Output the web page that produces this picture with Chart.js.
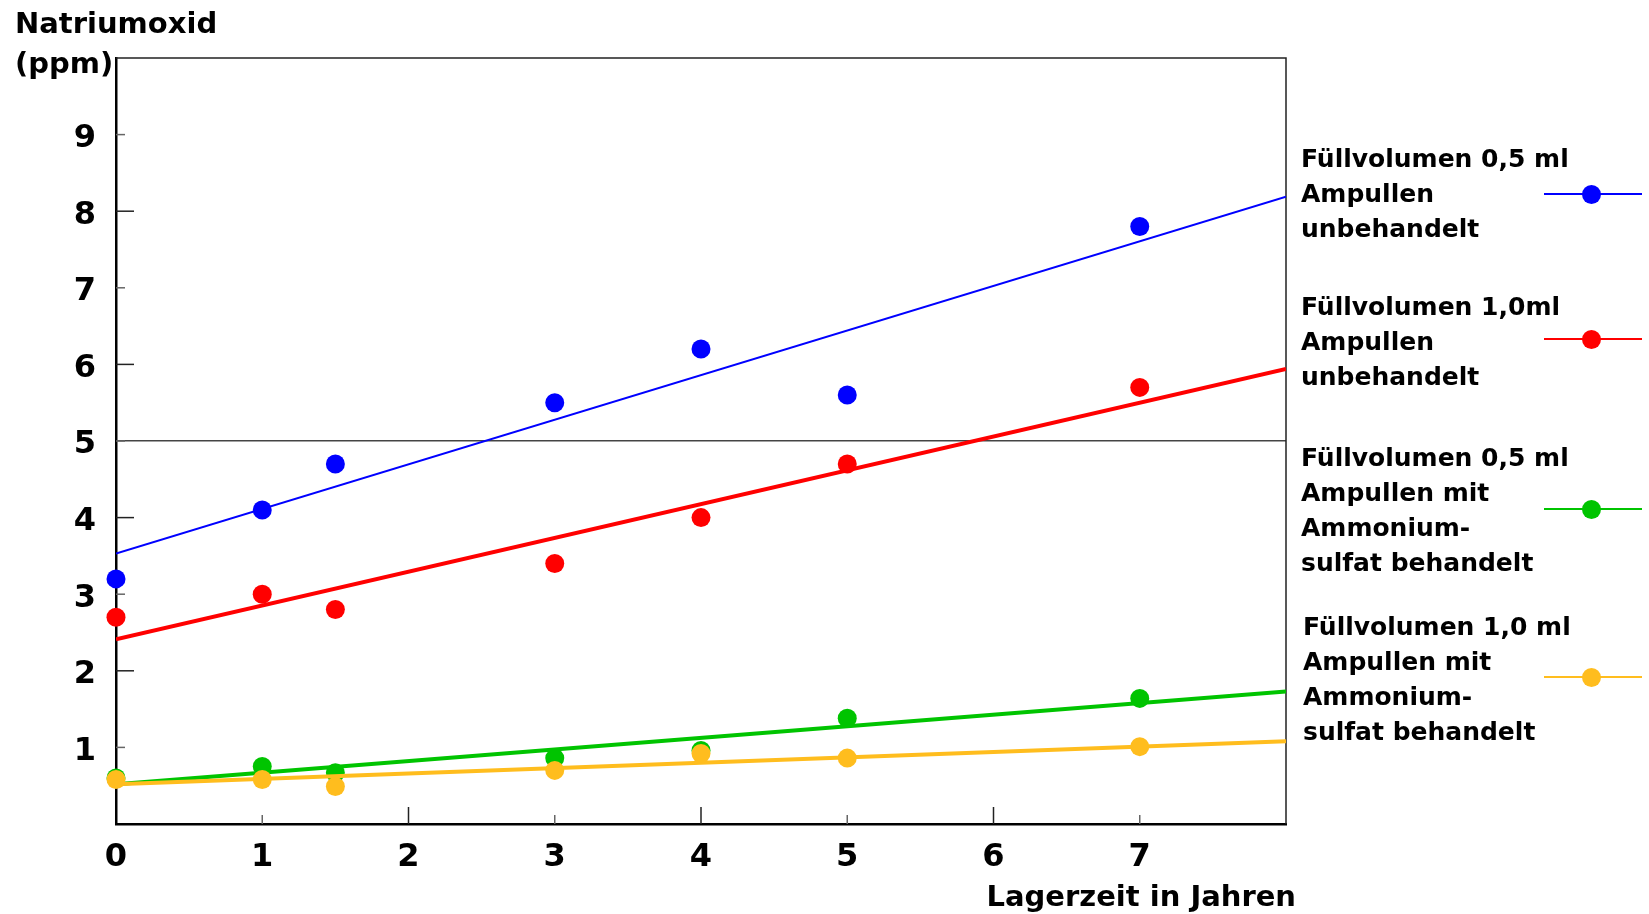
<!DOCTYPE html>
<html>
<head>
<meta charset="utf-8">
<script src="https://cdn.jsdelivr.net/npm/chart.js@4.4.1/dist/chart.umd.min.js"></script>
<style>
  html, body { margin: 0; padding: 0; background: #fff; }
  #wrap { position: relative; width: 1649px; height: 914px; overflow: hidden; }
  #c { position: absolute; left: 0; top: 0; }
  .txt { position: absolute; font-family: 'DejaVu Sans', sans-serif; font-weight: bold; color: #000; white-space: nowrap; }
  .leg { font-size: 25px; line-height: 35px; }
  .mline { position: absolute; height: 2px; }
  .mdot { position: absolute; width: 19px; height: 19px; border-radius: 50%; }
</style>
</head>
<body>
<div id="wrap">
  <canvas id="c" width="1649" height="914"></canvas>
  <div class="txt" style="left:15px;top:3px;font-size:29px;line-height:40px;">Natriumoxid<br>(ppm)</div>
  <div class="txt" style="right:353px;top:878px;font-size:29px;line-height:36px;">Lagerzeit in Jahren</div>
</div>
<script>
// ---- data ----
const years = [0, 1, 1.5, 3, 4, 5, 7];
const blueValues   = [3.2, 4.1, 4.7, 5.5, 6.2, 5.6, 7.8];
const redValues    = [2.7, 3.0, 2.8, 3.4, 4.0, 4.7, 5.7];
const greenValues  = [0.6, 0.75, 0.67, 0.86, 0.96, 1.38, 1.64];
const orangeValues = [0.58, 0.58, 0.49, 0.70, 0.92, 0.86, 1.01];

const trendYears  = [0, 8];
const blueTrend   = [3.53, 8.19];
const redTrend    = [2.41, 5.94];
const greenTrend  = [0.52, 1.73];
const orangeTrend = [0.52, 1.08];

const xTickValues = [0, 1, 2, 3, 4, 5, 6, 7];
const xTickLabels = ['0', '1', '2', '3', '4', '5', '6', '7'];
const yTickValues = [1, 2, 3, 4, 5, 6, 7, 8, 9];
const yTickLabels = ['1', '2', '3', '4', '5', '6', '7', '8', '9'];
const refLineValue = 5;

const blueLabel   = ['Füllvolumen 0,5 ml', 'Ampullen', 'unbehandelt'];
const redLabel    = ['Füllvolumen 1,0ml', 'Ampullen', 'unbehandelt'];
const greenLabel  = ['Füllvolumen 0,5 ml', 'Ampullen mit', 'Ammonium-', 'sulfat behandelt'];
const orangeLabel = ['Füllvolumen 1,0 ml', 'Ampullen mit', 'Ammonium-', 'sulfat behandelt'];

const BLUE = '#0000ff', RED = '#ff0000', GREEN = '#00c400', ORANGE = '#ffbd1e';

// ---- legend (HTML) ----
const legendItems = [
  { lines: blueLabel,   color: BLUE,   top: 141, left: 1301, markY: 194 },
  { lines: redLabel,    color: RED,    top: 289, left: 1301, markY: 339 },
  { lines: greenLabel,  color: GREEN,  top: 440, left: 1301, markY: 509 },
  { lines: orangeLabel, color: ORANGE, top: 609, left: 1303, markY: 677 }
];
const wrap = document.getElementById('wrap');
legendItems.forEach(it => {
  const d = document.createElement('div');
  d.className = 'txt leg';
  d.style.left = it.left + 'px';
  d.style.top = it.top + 'px';
  d.innerHTML = it.lines.join('<br>');
  wrap.appendChild(d);
  const l = document.createElement('div');
  l.className = 'mline';
  l.style.left = '1544px'; l.style.width = '98px';
  l.style.top = (it.markY - 1) + 'px';
  l.style.background = it.color;
  wrap.appendChild(l);
  const c = document.createElement('div');
  c.className = 'mdot';
  c.style.left = (1591 - 9.5) + 'px';
  c.style.top = (it.markY - 9.5) + 'px';
  c.style.background = it.color;
  wrap.appendChild(c);
});

// ---- chart ----
const pts = (xs, ys) => xs.map((x, i) => ({ x: x, y: ys[i] }));
const tickFont = { family: 'DejaVu Sans', weight: 'bold', size: 32 };

function scatterSet(vals, color, order) {
  return { type: 'scatter', data: pts(years, vals), backgroundColor: color, borderColor: color,
           borderWidth: 0, pointRadius: 9.5, pointHoverRadius: 9.5, order: order, clip: false };
}
function trendSet(vals, color, width, order) {
  return { type: 'line', data: pts(trendYears, vals), borderColor: color, backgroundColor: color,
           borderWidth: width, pointRadius: 0, showLine: true, fill: false, tension: 0, order: order };
}

const frameAndTicks = {
  id: 'frameAndTicks',
  beforeDatasetsDraw(chart) {
    const ctx = chart.ctx, a = chart.chartArea;
    const xs = chart.scales.x, ys = chart.scales.y;
    ctx.save();
    ctx.strokeStyle = '#222';
    ctx.lineWidth = 1.5;
    ctx.beginPath();
    ctx.moveTo(a.left, a.top); ctx.lineTo(a.right, a.top); ctx.lineTo(a.right, a.bottom);
    ctx.stroke();
    ctx.lineWidth = 1.5;
    xs.ticks.forEach(t => {
      if (t.value === 0) return;
      const px = xs.getPixelForValue(t.value);
      const long = t.value % 2 === 0;
      ctx.strokeStyle = long ? '#222' : '#666';
      ctx.beginPath(); ctx.moveTo(px, a.bottom); ctx.lineTo(px, a.bottom - (long ? 17 : 9)); ctx.stroke();
    });
    ys.ticks.forEach(t => {
      const py = ys.getPixelForValue(t.value);
      const long = t.value % 2 === 0;
      ctx.strokeStyle = long ? '#222' : '#666';
      ctx.beginPath(); ctx.moveTo(a.left, py); ctx.lineTo(a.left + (long ? 18 : 9), py); ctx.stroke();
    });
    ctx.restore();
  }
};

new Chart(document.getElementById('c'), {
  type: 'scatter',
  data: {
    datasets: [
      scatterSet(orangeValues, ORANGE, 0),
      trendSet(orangeTrend, ORANGE, 4, 1),
      scatterSet(greenValues, GREEN, 2),
      trendSet(greenTrend, GREEN, 4, 3),
      scatterSet(redValues, RED, 4),
      trendSet(redTrend, RED, 4, 5),
      scatterSet(blueValues, BLUE, 6),
      trendSet(blueTrend, BLUE, 2, 7)
    ]
  },
  options: {
    responsive: false,
    animation: false,
    devicePixelRatio: 1,
    layout: { padding: { left: 0, top: 58, right: 363, bottom: 0 } },
    plugins: { legend: { display: false }, tooltip: { enabled: false }, title: { display: false } },
    scales: {
      x: {
        type: 'linear', min: 0, max: 8,
        afterBuildTicks: s => { s.ticks = xTickValues.map(v => ({ value: v })); },
        afterFit: s => { s.height = 90; },
        ticks: { autoSkip: false, maxRotation: 0, color: '#000', font: tickFont, padding: 14,
                 callback: v => { const i = xTickValues.indexOf(v); return i >= 0 ? xTickLabels[i] : ''; } },
        grid: { display: false, drawTicks: false },
        border: { display: true, color: '#000', width: 2.5 }
      },
      y: {
        type: 'linear', min: 0, max: 10,
        afterBuildTicks: s => { s.ticks = yTickValues.map(v => ({ value: v })); },
        afterFit: s => { s.width = 116; },
        ticks: { autoSkip: false, color: '#000', font: tickFont, padding: 20, labelOffset: 4,
                 callback: v => { const i = yTickValues.indexOf(v); return i >= 0 ? yTickLabels[i] : ''; } },
        grid: { display: true, drawTicks: false, lineWidth: 1.5,
                color: c => (c.tick && c.tick.value === refLineValue) ? '#444' : 'rgba(0,0,0,0)' },
        border: { display: true, color: '#000', width: 2.5 }
      }
    }
  },
  plugins: [frameAndTicks]
});
</script>
</body>
</html>
